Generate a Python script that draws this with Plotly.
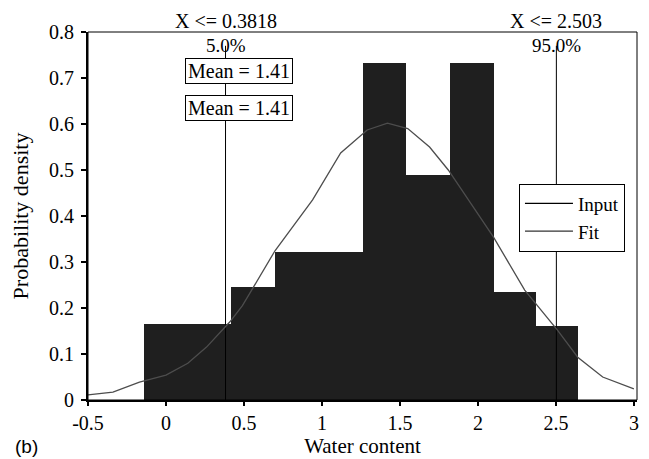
import plotly.graph_objects as go

# ---- data ----
bin_edges = [-0.14, 0.14, 0.42, 0.70, 0.98, 1.26, 1.54, 1.82, 2.10, 2.37, 2.64]
bin_heights = [0.165, 0.165, 0.245, 0.322, 0.322, 0.733, 0.49, 0.733, 0.235, 0.16]

fit_x = [-0.5, -0.34, -0.17, 0.0, 0.14, 0.26, 0.41, 0.49, 0.56, 0.70, 0.94, 1.12,
         1.29, 1.42, 1.55, 1.69, 1.81, 1.93, 2.10, 2.30, 2.51, 2.64, 2.80, 3.0]
fit_y = [0.011, 0.017, 0.039, 0.054, 0.08, 0.115, 0.17, 0.205, 0.245, 0.325, 0.435, 0.537,
         0.587, 0.602, 0.59, 0.55, 0.50, 0.44, 0.354, 0.239, 0.152, 0.093, 0.05, 0.024]

pct_values = [0.3818, 2.503]
pct_labels = ["X <= 0.3818", "X <= 2.503"]
pct_levels = ["5.0%", "95.0%"]
mean_labels = ["Mean = 1.41", "Mean = 1.41"]

x_ticks = [-0.5, 0, 0.5, 1, 1.5, 2, 2.5, 3]
x_tick_text = ["-0.5", "0", "0.5", "1", "1.5", "2", "2.5", "3"]
y_ticks = [0, 0.1, 0.2, 0.3, 0.4, 0.5, 0.6, 0.7, 0.8]
y_tick_text = ["0", "0.1", "0.2", "0.3", "0.4", "0.5", "0.6", "0.7", "0.8"]

SERIF = "Liberation Serif"
BAR_COLOR = "#1f1f1f"
FIT_COLOR = "#4d4d4d"

centers = [(a + b) / 2 for a, b in zip(bin_edges[:-1], bin_edges[1:])]
widths = [b - a for a, b in zip(bin_edges[:-1], bin_edges[1:])]

fig = go.Figure()

# percentile lines (behind everything)
for v in pct_values:
    fig.add_trace(go.Scatter(x=[v, v], y=[0, 0.77], mode="lines",
                             line=dict(color="black", width=1), showlegend=False,
                             hoverinfo="skip"))

fig.add_trace(go.Bar(x=centers, y=bin_heights, width=widths,
                     marker=dict(color=BAR_COLOR, line=dict(width=0)),
                     showlegend=False, name="Input"))

fig.add_trace(go.Scatter(x=fit_x, y=fit_y, mode="lines",
                         line=dict(color=FIT_COLOR, width=1.3), showlegend=False,
                         name="Fit"))

# legend-only entries (line samples, as in the reference)
fig.add_trace(go.Scatter(x=[None], y=[None], mode="lines", name="Input",
                         line=dict(color="black", width=1.2)))
fig.add_trace(go.Scatter(x=[None], y=[None], mode="lines", name="Fit",
                         line=dict(color="#333333", width=1.2)))

annotations = []
for v, lab, lev in zip(pct_values, pct_labels, pct_levels):
    annotations.append(dict(x=v, y=1.031, xref="x", yref="paper", text=lab,
                            xanchor="center", yanchor="middle",
                            showarrow=False, font=dict(family=SERIF, size=20, color="black")))
    annotations.append(dict(x=v, y=0.963, xref="x", yref="paper", text=lev,
                            xanchor="center", yanchor="middle",
                            showarrow=False, font=dict(family=SERIF, size=19, color="black")))
for i, m in enumerate(mean_labels):
    annotations.append(dict(x=0.47, y=[0.894, 0.793][i], xref="x", yref="paper", text=m,
                            xanchor="center", yanchor="middle",
                            showarrow=False, bgcolor="white", bordercolor="black",
                            borderwidth=1, borderpad=1, width=104, height=22,
                            font=dict(family=SERIF, size=20, color="black")))
annotations.append(dict(x=-0.137, y=-0.125, xref="paper", yref="paper", text="(b)",
                        xanchor="left", yanchor="middle", showarrow=False,
                        font=dict(family="Liberation Sans", size=19, color="black")))

# The page body adds an 8px offset, so the figure is 8px smaller and margins shifted.
fig.update_layout(
    width=641, height=451,
    margin=dict(l=80, r=12, t=24, b=59, autoexpand=False),
    plot_bgcolor="white", paper_bgcolor="white",
    bargap=0,
    font=dict(family=SERIF, size=20, color="black"),
    annotations=annotations,
    legend=dict(x=0.785, y=0.588, xanchor="left", yanchor="top",
                bgcolor="white", bordercolor="black", borderwidth=1,
                font=dict(family=SERIF, size=19, color="black"),
                tracegroupgap=0, itemwidth=48),
    shapes=[dict(type="rect", xref="paper", yref="paper", x0=0, x1=1, y0=0, y1=1,
                 line=dict(color="black", width=1), fillcolor="rgba(0,0,0,0)", layer="above")],
    xaxis=dict(range=[-0.5, 3.02], tickvals=x_ticks, ticktext=x_tick_text,
               showgrid=False, zeroline=False, showline=True, linecolor="black",
               linewidth=1.5, ticks="outside", ticklen=4, tickwidth=2, tickcolor="black",
               automargin=False, tickfont=dict(size=20),
               title=dict(text="Water content", font=dict(family=SERIF, size=21), standoff=5)),
    yaxis=dict(range=[0, 0.8], tickvals=y_ticks, ticktext=y_tick_text,
               showgrid=False, zeroline=False, showline=True, linecolor="black",
               linewidth=2, ticks="outside", ticklen=5, tickwidth=2, tickcolor="black",
               automargin=False, tickfont=dict(size=20), ticklabelstandoff=3,
               title=dict(text="Probability density", font=dict(family=SERIF, size=22), standoff=16)),
)

fig.write_html("out.html")
